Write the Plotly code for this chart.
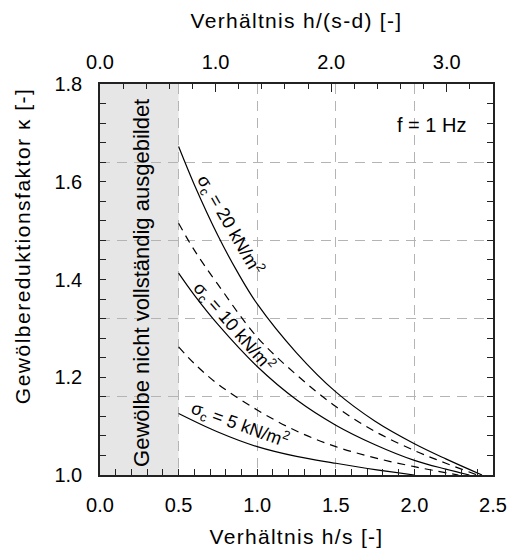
import plotly.graph_objects as go

# ---- data ----
s20_x = [0.5, 0.6, 0.75, 0.875, 1.0, 1.25, 1.5, 1.75, 2.0, 2.2, 2.43]
s20_y = [1.672, 1.594, 1.490, 1.415, 1.350, 1.250, 1.170, 1.110, 1.064, 1.033, 1.0]

d20_x = [0.5, 0.6, 0.75, 1.0, 1.25, 1.5, 1.75, 2.0, 2.2, 2.40]
d20_y = [1.515, 1.460, 1.390, 1.282, 1.205, 1.140, 1.089, 1.050, 1.024, 1.0]

s10_x = [0.5, 0.6, 0.75, 1.0, 1.25, 1.5, 1.75, 2.0, 2.2, 2.35]
s10_y = [1.413, 1.368, 1.308, 1.222, 1.154, 1.102, 1.062, 1.030, 1.012, 1.0]

d10_x = [0.5, 0.6, 0.75, 1.0, 1.25, 1.5, 1.75, 2.0, 2.28]
d10_y = [1.262, 1.228, 1.186, 1.133, 1.090, 1.058, 1.035, 1.017, 1.0]

s5_x = [0.5, 0.75, 1.0, 1.25, 1.5, 1.75, 2.0]
s5_y = [1.126, 1.088, 1.058, 1.038, 1.024, 1.011, 1.0]

curve_labels = ["σ<sub>c</sub> = 20 kN/m<sup>2</sup>",
                "σ<sub>c</sub> = 10 kN/m<sup>2</sup>",
                "σ<sub>c</sub> = 5 kN/m<sup>2</sup>"]
label_x = [0.83, 0.85, 0.89]
label_y = [1.511, 1.304, 1.104]
label_angle = [60, 49, 20]

region_label = "Gewölbe nicht vollständig ausgebildet"
freq_label = "f = 1 Hz"
x_title = "Verhältnis h/s [-]"
x2_title = "Verhältnis h/(s-d) [-]"
y_title = "Gewölbereduktionsfaktor κ [-]"

FONT = "Liberation Sans, Arial, sans-serif"
AX = "#222222"
GRID = "#b4b4b4"

fig = go.Figure()

def add_curve(x, y, dash):
    fig.add_trace(go.Scatter(x=x, y=y, mode="lines",
                             line=dict(color="black", width=1.2, dash=dash, shape="spline", smoothing=1.0),
                             showlegend=False, hoverinfo="skip"))

add_curve(s20_x, s20_y, "solid")
add_curve(d20_x, d20_y, "8px,6px")
add_curve(s10_x, s10_y, "solid")
add_curve(d10_x, d10_y, "8px,6px")
add_curve(s5_x, s5_y, "solid")

# empty trace so that the secondary (top / grid) axes are drawn
fig.add_trace(go.Scatter(x=[], y=[], xaxis="x2", yaxis="y2", showlegend=False, hoverinfo="skip"))

# shaded region
fig.add_shape(type="rect", xref="x", yref="paper", x0=0, x1=0.5, y0=0, y1=1,
              fillcolor="#e6e6e6", line_width=0, layer="below")

for t, x, y, a in zip(curve_labels, label_x, label_y, label_angle):
    fig.add_annotation(x=x, y=y, text=t, textangle=a, showarrow=False,
                       xanchor="center", yanchor="middle",
                       font=dict(family=FONT, size=18, color="black"))

fig.add_annotation(x=0.267, y=1.393, text=region_label, textangle=-90, showarrow=False,
                   xanchor="center", yanchor="middle",
                   font=dict(family=FONT, size=22, color="black"))
fig.add_annotation(x=2.106, y=1.716, text=freq_label, showarrow=False,
                   xanchor="center", yanchor="middle",
                   font=dict(family=FONT, size=20, color="black"))
# y-axis title (placed like the reference, slightly above the centre)
fig.add_annotation(xref="paper", yref="paper", x=-0.198, y=0.585, text=y_title,
                   textangle=-90, showarrow=False, xanchor="center", yanchor="middle",
                   font=dict(family=FONT, size=21, color="black"))

fig.update_layout(
    width=514, height=548,
    margin=dict(l=100, r=21, t=84, b=73, autoexpand=False),
    paper_bgcolor="white", plot_bgcolor="white",
    font=dict(family=FONT, size=20, color="black"),
    xaxis=dict(range=[0, 2.5], dtick=0.5, tick0=0, tickformat=".1f",
               ticks="inside", ticklen=6, tickcolor=AX, tickwidth=1,
               minor=dict(dtick=0.1, ticks="inside", ticklen=6, tickcolor=AX, showgrid=False),
               showline=True, linecolor=AX, linewidth=1.5, mirror=True,
               showgrid=True, gridcolor=GRID, griddash="10px,7px", gridwidth=1.3,
               zeroline=False, ticklabelstandoff=11, automargin=False,
               title=dict(text=x_title, standoff=22, font=dict(size=21))),
    xaxis2=dict(overlaying="x", side="top", anchor="y2", range=[0, 3.4], dtick=1, tick0=0,
                tickformat=".1f", ticks="inside", ticklen=8, tickcolor=AX, tickwidth=1,
                minor=dict(dtick=0.2, ticks="inside", ticklen=5, tickcolor=AX, showgrid=False),
                showline=False, showgrid=False, zeroline=False, ticklabelstandoff=10,
                automargin=False,
                title=dict(text=x2_title, standoff=16, font=dict(size=21))),
    yaxis=dict(range=[1.0, 1.8], dtick=0.2, tick0=1.0, tickformat=".1f",
               ticks="inside", ticklen=6, tickcolor=AX, tickwidth=1,
               minor=dict(dtick=0.04, ticks="inside", ticklen=6, tickcolor=AX, showgrid=False),
               showline=True, linecolor=AX, linewidth=1.5, mirror="allticks",
               showgrid=False, zeroline=False, ticklabelstandoff=12, automargin=False),
    yaxis2=dict(overlaying="y", anchor="x2", range=[1.0, 1.8], tick0=1.0, dtick=0.16,
                showgrid=True, gridcolor=GRID, griddash="10px,7px", gridwidth=1.3,
                showticklabels=False, ticks="", showline=False, zeroline=False,
                automargin=False),
)

post = ("document.querySelectorAll('.xtitle, .x2title').forEach("
        "function(t){t.style.letterSpacing='1.3px';});"
        "document.querySelectorAll('.annotation-text').forEach(function(t){"
        "if(t.textContent.indexOf('Gewölbereduktionsfaktor')===0){t.style.letterSpacing='1.5px';}});")
fig.write_html("out.html", post_script=post)
